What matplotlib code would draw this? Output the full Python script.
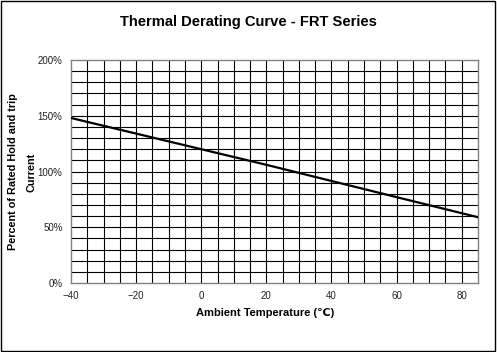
import matplotlib
matplotlib.use("Agg")
import matplotlib.pyplot as plt
from matplotlib.patches import Rectangle
import numpy as np

plt.rcParams['font.family'] = ['Liberation Sans', 'DejaVu Sans']

temperature = [-40, -20, 0, 20, 40, 60, 85]
percent = [148, 134, 120, 106, 91.5, 77, 59]
x_ticks = [-40, -20, 0, 20, 40, 60, 80]
y_ticks = [0, 50, 100, 150, 200]
y_tick_labels = ["0%", "50%", "100%", "150%", "200%"]

title = "Thermal Derating Curve - FRT Series"
x_label = "Ambient Temperature (\u2103)"
y_label = "Percent of Rated Hold and trip\nCurrent"

fig = plt.figure(figsize=(4.97, 3.52), dpi=100)
ax = fig.add_axes([71/497, 1-283/352, (478-71)/497, (283-60)/352])

ax.set_xlim(-40, 85)
ax.set_ylim(0, 200)
for xv in np.arange(-35, 85, 5):
    ax.axvline(xv, color='black', linewidth=0.8, zorder=1)
for yv in np.arange(10, 200, 10):
    ax.axhline(yv, color='black', linewidth=0.8, zorder=1)
ax.set_xticks(x_ticks)
ax.set_yticks(y_ticks)
ax.set_yticklabels(y_tick_labels)
ax.tick_params(which='both', length=0, labelsize=7, pad=6, labelcolor='#222222')
for s in ax.spines.values():
    s.set_color('#808080')
    s.set_linewidth(1)

ax.plot(temperature, percent, color='black', linewidth=1.6, zorder=3)

fig.text(265/497, 1-313/352, x_label, ha='center', va='center',
         fontsize=8, fontweight='bold')
fig.text(22.5/497, 1-172/352, y_label, rotation=90, ha='center', va='center',
         multialignment='center', fontsize=7.8, fontweight='bold', linespacing=2.0)

fig.text(248/497, 1-22/352, title, ha='center', va='center', fontsize=10.6, fontweight='bold')

fig.patches.append(Rectangle((0.002, 0.003), 0.994, 0.994, transform=fig.transFigure,
                             fill=False, edgecolor='black', linewidth=1))

fig.savefig("out.png", dpi=100)
